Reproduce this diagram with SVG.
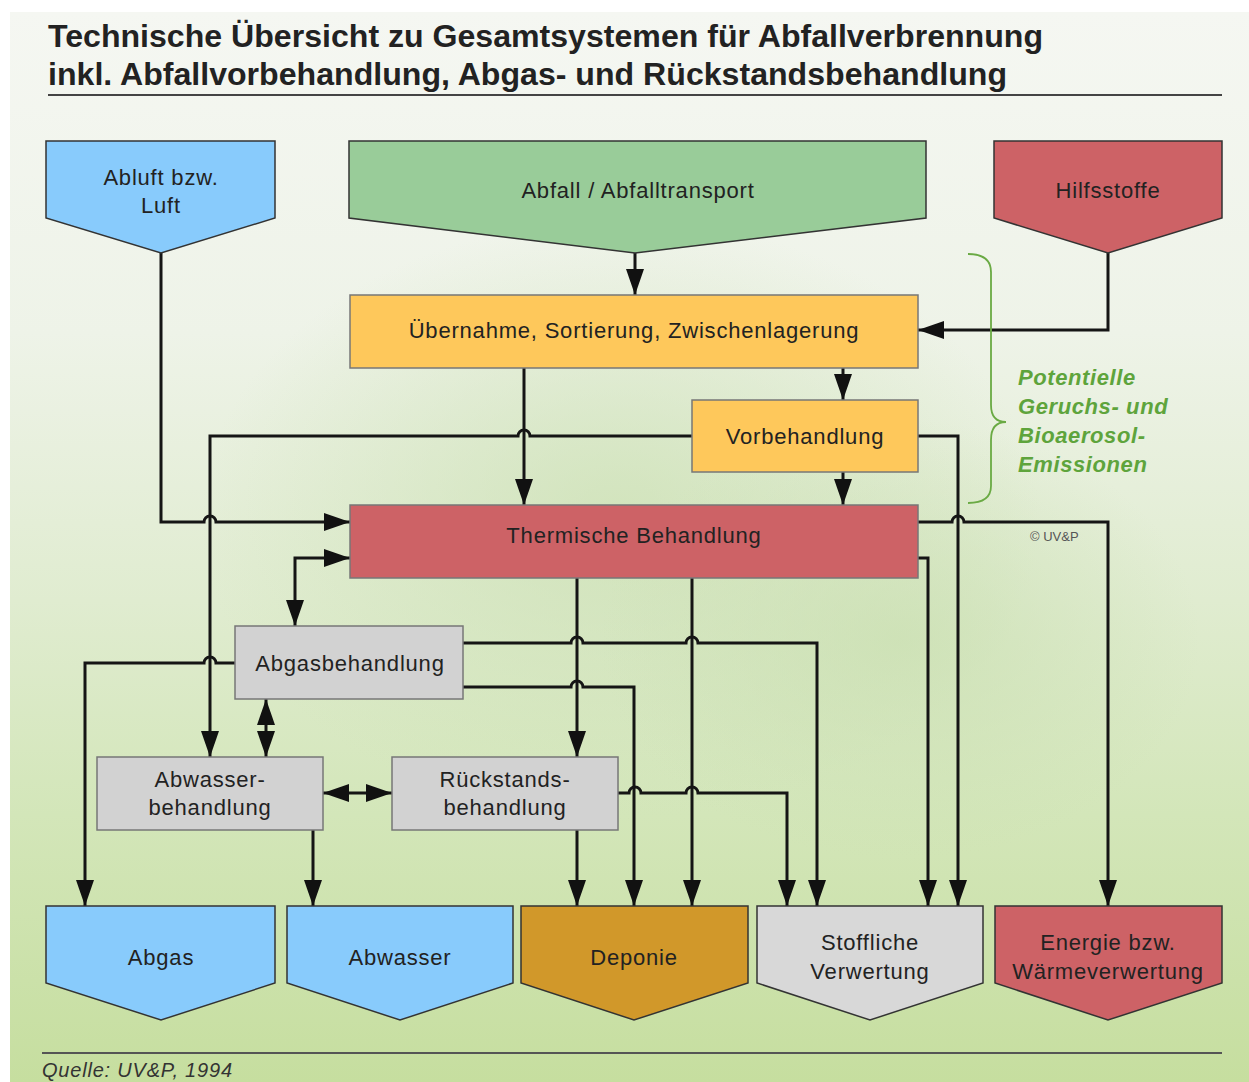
<svg xmlns="http://www.w3.org/2000/svg" width="1249" height="1082" viewBox="0 0 1249 1082">
<defs>
<linearGradient id="bg" x1="0" y1="0" x2="0" y2="1">
<stop offset="0" stop-color="#f5f7f2"/>
<stop offset="0.3" stop-color="#eef3e8"/>
<stop offset="0.55" stop-color="#e0ecd0"/>
<stop offset="0.75" stop-color="#d3e6b9"/>
<stop offset="1" stop-color="#c6de9f"/>
</linearGradient>
<radialGradient id="tree" cx="0.5" cy="0.5" r="0.5">
<stop offset="0" stop-color="#c9dfb0" stop-opacity="0.7"/>
<stop offset="1" stop-color="#c9dfb0" stop-opacity="0"/>
</radialGradient>
<marker id="ah" viewBox="0 0 26 18" refX="26" refY="9" markerWidth="26" markerHeight="18" markerUnits="userSpaceOnUse" orient="auto-start-reverse">
<path d="M0,0 L26,9 L0,18 Z" fill="#111"/>
</marker>
<style>
.t{font-family:"Liberation Sans",Arial,sans-serif;font-size:22px;letter-spacing:0.8px;fill:#222;text-anchor:middle}
.title{font-family:"Liberation Sans",Arial,sans-serif;font-size:31px;font-weight:bold;fill:#222}
.c path{fill:none;stroke:#151515;stroke-width:3}
.arr{marker-end:url(#ah)}
.bi{marker-start:url(#ah);marker-end:url(#ah)}
.pent{stroke:#333;stroke-width:1.5}
.box{stroke:#777;stroke-width:1.5}
.blue{fill:#88cbfc}
.red{fill:#cd6266}
.grn{fill:#99cc99}
.yel{fill:#fec85b}
.gry{fill:#d2d2d2}
.dep{fill:#d1982a}
.sto{fill:#d8d8d8}
.note{font-family:"Liberation Sans",Arial,sans-serif;font-size:22px;letter-spacing:0.6px;font-weight:bold;font-style:italic;fill:#5ea43c}
</style>
</defs>
<rect x="0" y="0" width="1249" height="1082" fill="#ffffff"/>
<rect x="10" y="12" width="1239" height="1070" fill="url(#bg)"/>
<ellipse cx="620" cy="520" rx="420" ry="300" fill="url(#tree)"/>
<ellipse cx="900" cy="640" rx="300" ry="220" fill="url(#tree)"/>

<g id="title">
<text class="title" x="48" y="47" textLength="995" lengthAdjust="spacingAndGlyphs">Technische Übersicht zu Gesamtsystemen für Abfallverbrennung</text>
<text class="title" x="48" y="85" textLength="959" lengthAdjust="spacingAndGlyphs">inkl. Abfallvorbehandlung, Abgas- und Rückstandsbehandlung</text>
<line x1="48" y1="95" x2="1222" y2="95" stroke="#444" stroke-width="2"/>
</g>

<g class="c" id="connectors">
<path class="arr" d="M635,253 V295"/>
<path class="arr" d="M1108,253 V330 H918"/>
<path class="arr" d="M843,368 V400"/>
<path class="arr" d="M524,368 V505"/>
<path class="arr" d="M843,472 V505"/>
<path class="arr" d="M692,436 H530 A6,6 0 0 0 518,436 H210 V757"/>
<path class="arr" d="M161,253 V522 H204 A6,6 0 0 1 216,522 H350"/>
<path class="arr" d="M918,436 H958 V906"/>
<path class="arr" d="M918,522 H952 A6,6 0 0 1 964,522 H1108 V906"/>
<path class="arr" d="M918,558 H928 V906"/>
<path class="bi" d="M350,558 H295 V626"/>
<path class="arr" d="M577,578 V757"/>
<path class="arr" d="M692,578 V906"/>
<path class="arr" d="M463,643 H571 A6,6 0 0 1 583,643 H686 A6,6 0 0 1 698,643 H817 V906"/>
<path class="arr" d="M463,687 H571 A6,6 0 0 1 583,687 H634 V906"/>
<path class="arr" d="M235,663 H216 A6,6 0 0 0 204,663 H85 V906"/>
<path class="bi" d="M266,699 V757"/>
<path class="bi" d="M323,793 H392"/>
<path class="arr" d="M313,830 V906"/>
<path class="arr" d="M577,830 V906"/>
<path class="arr" d="M618,793 H629 A6,6 0 0 1 641,793 H686 A6,6 0 0 1 698,793 H787 V906"/>
</g>

<g id="abluft">
<path class="pent blue" d="M46,141 H275 V218 L161,253 L46,218 Z"/>
<text class="t" x="161" y="185">Abluft bzw.</text>
<text class="t" x="161" y="213">Luft</text>
</g>
<g id="abfall">
<path class="pent grn" d="M349,141 H926 V218 L635,253 L349,218 Z"/>
<text class="t" x="638" y="198">Abfall / Abfalltransport</text>
</g>
<g id="hilfsstoffe">
<path class="pent red" d="M994,141 H1222 V218 L1108,253 L994,218 Z"/>
<text class="t" x="1108" y="198">Hilfsstoffe</text>
</g>
<g id="uebernahme">
<rect class="box yel" x="350" y="295" width="568" height="73"/>
<text class="t" x="634" y="338">Übernahme, Sortierung, Zwischenlagerung</text>
</g>
<g id="vorbehandlung">
<rect class="box yel" x="692" y="400" width="226" height="72"/>
<text class="t" x="805" y="444">Vorbehandlung</text>
</g>
<g id="thermische">
<rect class="box red" x="350" y="505" width="568" height="73" stroke="#555"/>
<text class="t" x="634" y="543">Thermische Behandlung</text>
</g>
<g id="abgasbehandlung">
<rect class="box gry" x="235" y="626" width="228" height="73"/>
<text class="t" x="350" y="671">Abgasbehandlung</text>
</g>
<g id="abwasserbehandlung">
<rect class="box gry" x="97" y="757" width="226" height="73"/>
<text class="t" x="210" y="787">Abwasser-</text>
<text class="t" x="210" y="815">behandlung</text>
</g>
<g id="rueckstandsbehandlung">
<rect class="box gry" x="392" y="757" width="226" height="73"/>
<text class="t" x="505" y="787">Rückstands-</text>
<text class="t" x="505" y="815">behandlung</text>
</g>
<g id="abgas">
<path class="pent blue" d="M46,906 H275 V983 L161,1020 L46,983 Z"/>
<text class="t" x="161" y="965">Abgas</text>
</g>
<g id="abwasser">
<path class="pent blue" d="M287,906 H513 V983 L400,1020 L287,983 Z"/>
<text class="t" x="400" y="965">Abwasser</text>
</g>
<g id="deponie">
<path class="pent dep" d="M521,906 H748 V983 L634,1020 L521,983 Z"/>
<text class="t" x="634" y="965">Deponie</text>
</g>
<g id="stoffliche">
<path class="pent sto" d="M757,906 H983 V983 L870,1020 L757,983 Z"/>
<text class="t" x="870" y="950">Stoffliche</text>
<text class="t" x="870" y="979">Verwertung</text>
</g>
<g id="energie">
<path class="pent red" d="M995,906 H1222 V983 L1108,1020 L995,983 Z"/>
<text class="t" x="1108" y="950">Energie bzw.</text>
<text class="t" x="1108" y="979">Wärmeverwertung</text>
</g>

<g id="brace">
<path d="M968,254 Q991,254 991,272 V405 Q991,422 1006,422 Q991,422 991,440 V486 Q991,503 968,503" fill="none" stroke="#6aaa44" stroke-width="1.8"/>
<text class="note" x="1018" y="385">Potentielle</text>
<text class="note" x="1018" y="414">Geruchs- und</text>
<text class="note" x="1018" y="443">Bioaerosol-</text>
<text class="note" x="1018" y="472">Emissionen</text>
</g>
<text x="1030" y="541" font-family="Liberation Sans, Arial, sans-serif" font-size="13" fill="#555">© UV&amp;P</text>

<g id="footer">
<line x1="42" y1="1053" x2="1222" y2="1053" stroke="#555" stroke-width="2"/>
<text x="42" y="1077" font-family="Liberation Sans, Arial, sans-serif" font-size="20" letter-spacing="0.8" font-style="italic" fill="#333">Quelle: UV&amp;P, 1994</text>
</g>
</svg>
